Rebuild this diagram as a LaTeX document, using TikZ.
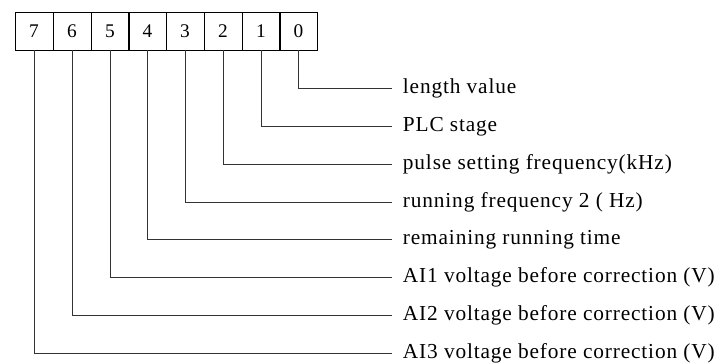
\documentclass[tikz,border=0pt]{standalone}
\usepackage{fontspec}
\setmainfont[LetterSpace=4]{Liberation Serif}
\begin{document}
\begin{tikzpicture}[x=0.75pt,y=-0.75pt,font=\fontsize{16}{19}\selectfont,
	  bit/.style={draw,line width=0.6pt,minimum width=28.5pt,minimum height=28.5pt,inner sep=0pt,font=\fontsize{14.5}{17}\selectfont},
	  lbl/.style={anchor=west,inner xsep=8pt,inner ysep=0pt,text height=1em,text depth=0.22em},
	  lead/.style={line width=0.6pt,black!80}]
	  \useasboundingbox (0,0) rectangle (722,362);
	  \node[bit] (b7) at (34,31) {7};
	  \node[bit] (b6) at (72,31) {6};
	  \node[bit] (b5) at (110,31) {5};
	  \node[bit] (b4) at (147.5,31) {4};
	  \node[bit] (b3) at (185,31) {3};
	  \node[bit] (b2) at (223,31) {2};
	  \node[bit] (b1) at (261,31) {1};
	  \node[bit] (b0) at (298.5,31) {0};
	  \node[lbl] (l0) at (392,88) {length value};
	  \node[lbl] (l1) at (392,126) {PLC stage};
	  \node[lbl] (l2) at (392,164) {pulse setting frequency(kHz)};
	  \node[lbl] (l3) at (392,202) {running frequency 2 ( Hz)};
	  \node[lbl] (l4) at (392,239) {remaining running time};
	  \node[lbl] (l5) at (392,277) {AI1 voltage before correction (V)};
	  \node[lbl] (l6) at (392,315) {AI2 voltage before correction (V)};
	  \node[lbl] (l7) at (392,353) {AI3 voltage before correction (V)};
	  \draw[lead] (b0.south) |- (l0.west);
	  \draw[lead] (b1.south) |- (l1.west);
	  \draw[lead] (b2.south) |- (l2.west);
	  \draw[lead] (b3.south) |- (l3.west);
	  \draw[lead] (b4.south) |- (l4.west);
	  \draw[lead] (b5.south) |- (l5.west);
	  \draw[lead] (b6.south) |- (l6.west);
	  \draw[lead] (b7.south) |- (l7.west);
\end{tikzpicture}
\end{document}
